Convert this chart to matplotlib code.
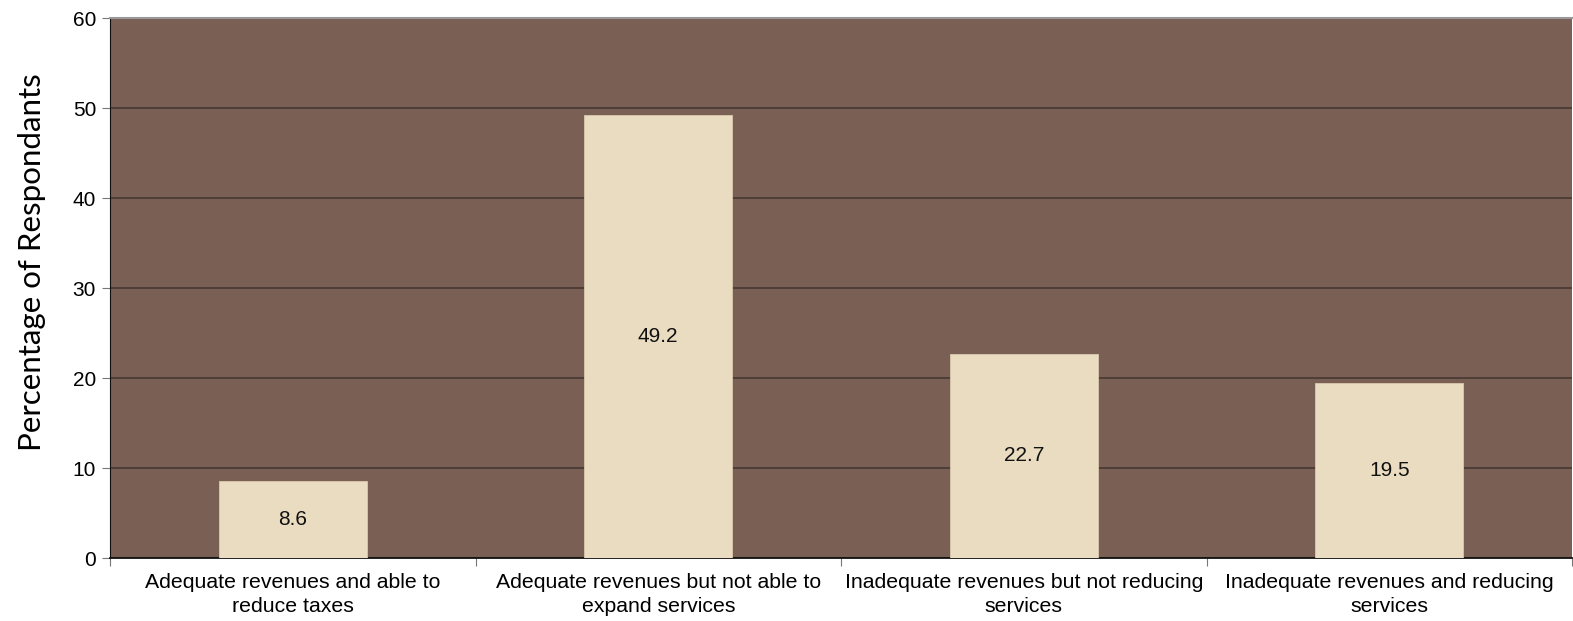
import matplotlib

matplotlib.use("Agg")
import matplotlib.pyplot as plt  # noqa: E402
import numpy as np  # noqa: E402

categories = [
    "Adequate revenues and able to\nreduce taxes",
    "Adequate revenues but not able to\nexpand services",
    "Inadequate revenues but not reducing\nservices",
    "Inadequate revenues and reducing\nservices",
]
values = [8.6, 49.2, 22.7, 19.5]
y_ticks = [0, 10, 20, 30, 40, 50, 60]

BG = "#7a5f55"
BAR = "#eadcc1"
GRID = "#43352f"

fig = plt.figure(figsize=(15.73, 6.21), dpi=100)
ax = fig.add_axes([110 / 1573, 63 / 621, 1462 / 1573, 540 / 621])
ax.set_facecolor(BG)

x = np.arange(len(categories))
bars = ax.bar(x, values, width=0.405, color=BAR, edgecolor="#d9c9ad",
              linewidth=0.6, zorder=3)
for rect, v in zip(bars, values):
    ax.text(rect.get_x() + rect.get_width() / 2, v / 2, f"{v:.1f}",
            ha="center", va="center", fontsize=15,
            family="Liberation Sans", color="#111", zorder=4)

ax.set_xlim(-0.5, len(categories) - 0.5)
ax.set_ylim(0, 60)
ax.set_yticks(y_ticks)
ax.yaxis.grid(True, color=GRID, lw=1.1, zorder=1)
ax.set_axisbelow(True)

# category ticks sit between the groups
ax.set_xticks(np.arange(len(categories) + 1) - 0.5, minor=False)
ax.set_xticklabels([])
ax.set_xticks(x, minor=True)
ax.set_xticklabels(categories, minor=True, fontsize=15.3,
                   family="Liberation Sans", linespacing=1.3)
ax.tick_params(axis="x", which="minor", length=0, pad=11)
ax.tick_params(axis="x", which="major", length=6, color="#777")
ax.tick_params(axis="y", labelsize=15, length=6, color="#777", pad=4)
for lab in ax.get_yticklabels():
    lab.set_family("Liberation Sans")

ax.spines["top"].set_color("#999999")
ax.spines["top"].set_linewidth(1.5)
ax.spines["right"].set_visible(False)
ax.spines["left"].set_color("#111")
ax.spines["bottom"].set_color("#111")
ax.spines["bottom"].set_linewidth(1.3)

# axis title sits a little above the plot's mid-height, as in the original
fig.text(32 / 1573, 1 - 262 / 621, "Percentage of Respondants",
         rotation=90, ha="center", va="center", fontsize=22.5, family="Lato")

fig.savefig("out.png", dpi=100, facecolor="white")
